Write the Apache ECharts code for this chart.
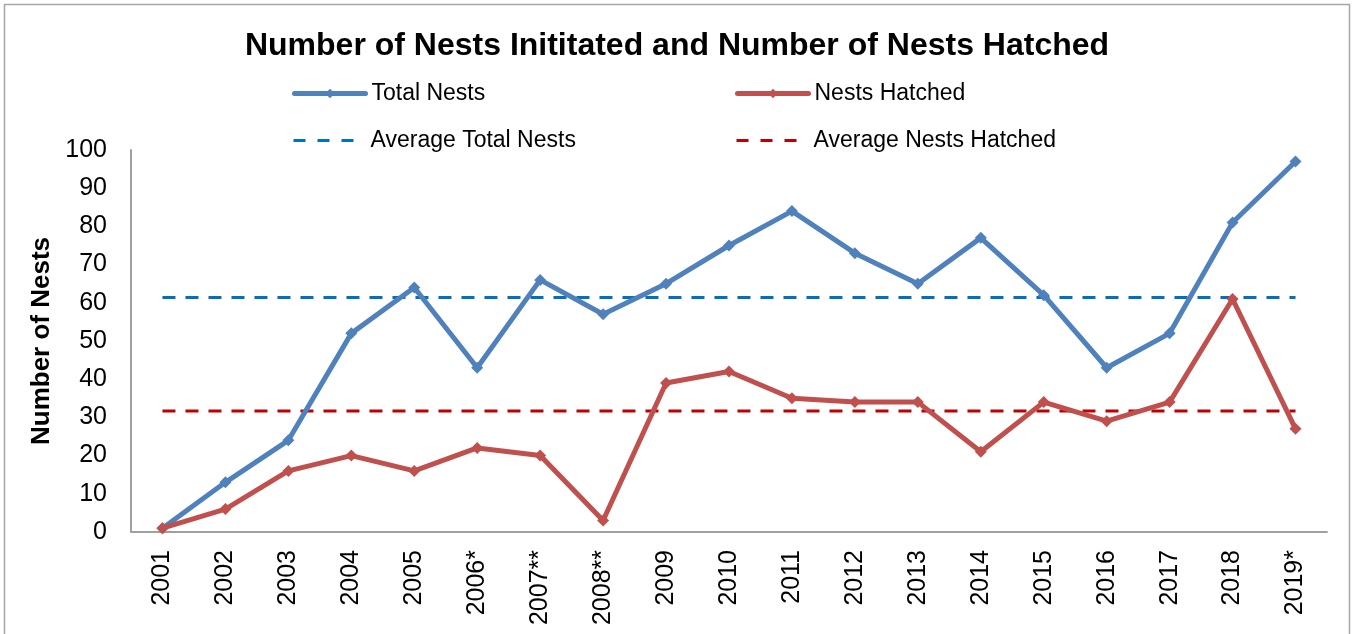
<!DOCTYPE html>
<html>
<head>
<meta charset="utf-8">
<script src="https://cdn.jsdelivr.net/npm/echarts@6/dist/echarts.min.js"></script>
<style>
  html, body { margin: 0; padding: 0; background: #fff; }
  #chart { width: 1354px; height: 634px; }
</style>
</head>
<body>
<div id="chart"></div>
<script>
// Nest counts per season
const years = ['2001','2002','2003','2004','2005','2006*','2007**','2008**','2009','2010',
               '2011','2012','2013','2014','2015','2016','2017','2018','2019*'];
const totalNests = [1, 13, 24, 52, 64, 43, 66, 57, 65, 75, 84, 73, 65, 77, 62, 43, 52, 81, 97];
const nestsHatched = [1, 6, 16, 20, 16, 22, 20, 3, 39, 42, 35, 34, 34, 21, 34, 29, 34, 61, 27];
const avgTotalNests = 61.4;
const avgNestsHatched = 31.7;
const yTicks = { min: 0, max: 100, interval: 10 };

const FONT = '"Liberation Sans", Arial, sans-serif';
const blue = '#4f81bd';
const red = '#c0504d';
const avgBlue = '#0070c0';
const avgRed = '#c00000';
const dash = [13, 10];

const chart = echarts.init(document.getElementById('chart'), null, { renderer: 'canvas' });

// one legend block per entry so the 2 x 2 arrangement lines up in columns
const mkLegend = (item, pos, width, textPad) => ({
  data: [item], left: pos.x, top: pos.y, itemWidth: width, itemHeight: 12, itemGap: 0,
  padding: 0, selectedMode: false,
  textStyle: { fontFamily: FONT, fontSize: 23, color: '#000', padding: [0, 0, 0, textPad] }
});
const solidItem = (name) => ({ name, lineStyle: { width: 5, cap: 'round' } });
const dashItem = (name) => ({ name, lineStyle: { width: 3, type: [12, 12] }, itemStyle: { opacity: 0 } });

chart.setOption({
  animation: false,
  backgroundColor: '#fff',
  title: {
    text: 'Number of Nests Inititated and Number of Nests Hatched',
    left: 'center', top: 25,
    textStyle: { fontFamily: FONT, fontSize: 32, fontWeight: 'bold', color: '#000' }
  },
  legend: [
    mkLegend(solidItem('Total Nests'), { x: 292, y: 82 }, 71, 1),
    mkLegend(solidItem('Nests Hatched'), { x: 735, y: 82 }, 71, 1),
    mkLegend(dashItem('Average Total Nests'), { x: 292, y: 129 }, 60, 12),
    mkLegend(dashItem('Average Nests Hatched'), { x: 735, y: 129 }, 60, 12)
  ],
  grid: { left: 131, right: 27, top: 150, bottom: 102, containLabel: false },
  xAxis: {
    type: 'category', data: years, boundaryGap: true,
    axisLine: { lineStyle: { color: '#a0a0a0', width: 2 } },
    axisTick: { show: false },
    axisLabel: { rotate: 90, fontFamily: FONT, fontSize: 25, color: '#000', margin: 18, interval: 0 }
  },
  yAxis: {
    type: 'value', min: yTicks.min, max: yTicks.max, interval: yTicks.interval,
    name: 'Number of Nests', nameLocation: 'middle', nameGap: 75, nameRotate: 90,
    nameTextStyle: { fontFamily: FONT, fontSize: 26, fontWeight: 'bold', color: '#000' },
    axisLine: { show: true, lineStyle: { color: '#a0a0a0', width: 2 } },
    axisTick: { show: false },
    splitLine: { show: false },
    axisLabel: { fontFamily: FONT, fontSize: 25, color: '#000', margin: 24 }
  },
  series: [
    {
      name: 'Total Nests', type: 'line', data: totalNests,
      symbol: 'diamond', symbolSize: 12, z: 4,
      lineStyle: { color: blue, width: 5 }, itemStyle: { color: blue }
    },
    {
      name: 'Nests Hatched', type: 'line', data: nestsHatched,
      symbol: 'diamond', symbolSize: 12, z: 4,
      lineStyle: { color: red, width: 5 }, itemStyle: { color: red }
    },
    {
      name: 'Average Total Nests', type: 'line', data: years.map(() => avgTotalNests),
      symbol: 'none', z: 3,
      lineStyle: { color: avgBlue, width: 3, type: dash }, itemStyle: { color: avgBlue }
    },
    {
      name: 'Average Nests Hatched', type: 'line', data: years.map(() => avgNestsHatched),
      symbol: 'none', z: 3,
      lineStyle: { color: avgRed, width: 3, type: dash }, itemStyle: { color: avgRed }
    }
  ],
  graphic: [{
    type: 'rect', shape: { x: 4.5, y: 4.5, width: 1345, height: 660 },
    style: { fill: 'none', stroke: '#a6a6a6', lineWidth: 1.5 }, silent: true, z: 0
  }]
});
</script>
</body>
</html>
